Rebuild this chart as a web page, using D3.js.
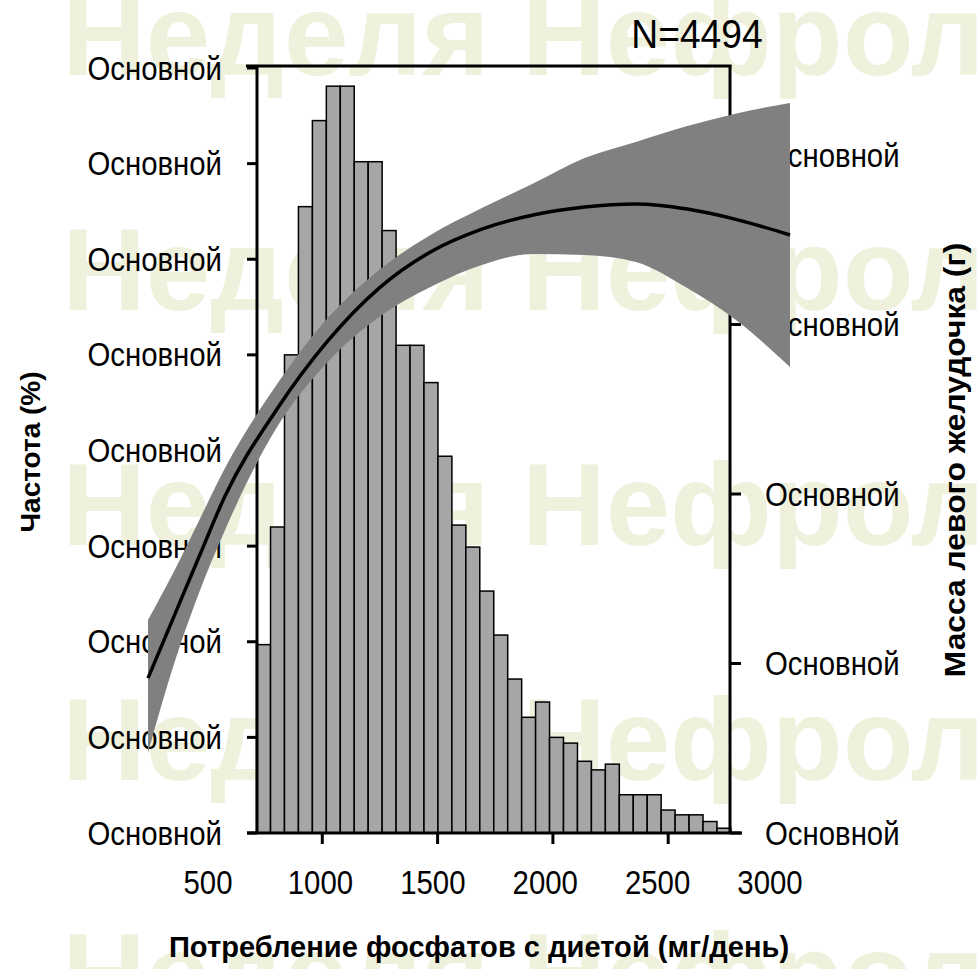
<!DOCTYPE html>
<html><head><meta charset="utf-8">
<script src="https://cdn.jsdelivr.net/npm/d3@7"></script>
<style>body{margin:0;background:#fff} svg{display:block}</style>
</head><body>
<svg id="c" width="979" height="969"></svg>
<script>
// ---- data ----
const binStart = 715, binWidth = 60.5;
const freq = [1.97,3.20,5.0,6.55,7.45,7.81,7.81,7.02,7.02,6.30,5.10,5.10,4.71,3.94,3.22,2.99,2.53,2.07,1.61,1.21,1.37,1.00,0.94,0.75,0.66,0.72,0.40,0.40,0.40,0.24,0.19,0.19,0.12,0.05];
const curveX  = [500,600,700,800,1000,1200,1400,1600,1800,2000,2200,2400,2600,2800,3000];
const lvMass  = [149.14,152.74,156.34,159.88,164.96,169.03,172.15,174.28,175.63,176.46,176.93,177.11,176.81,176.16,175.28];
const lvUpper = [152.57,155.40,158.47,161.53,166.43,170.38,173.22,175.28,176.87,178.32,179.82,180.77,181.71,182.48,183.07];
const lvLower = [144.72,149.91,154.22,157.88,163.89,167.79,170.44,172.21,173.51,174.16,174.10,173.69,172.15,170.15,167.49];
const xTickValues = [500,1000,1500,2000,2500,3000];
const leftTickValues = [0,1,2,3,4,5,6,7,8];
const rightTickValues = [140,150,160,170,180];
const tickLabel = "Основной";
const watermark = "Неделя Нефрол";
const watermarkRows = [75,310,545,780,1015];

// ---- scales ----
const xHist  = d3.scaleLinear([500,3000],[207,783.5]);
const xLabel = d3.scaleLinear([500,3000],[208,770]);
const yFreq  = d3.scaleLinear([0,8],[833,68]);
const xCurve = d3.scaleLinear([500,3000],[148,790]);
const yLV    = d3.scaleLinear([140,180],[833,155]);

const svg = d3.select("#c");
const FONT = "'Liberation Sans', Arial, sans-serif";

function label(g, x, y, txt, opts={}) {
  const sx = opts.sx ?? 0.89, rot = opts.rot ?? 0;
  return g.append("text")
    .attr("transform", `translate(${x},${y}) rotate(${rot}) scale(${sx},1)`)
    .attr("text-anchor", opts.anchor ?? "middle")
    .attr("dy", "0.35em")
    .attr("font-family", FONT)
    .attr("font-size", opts.size ?? 33)
    .attr("font-weight", opts.weight ?? "normal")
    .attr("fill", "#000")
    .text(txt);
}

// watermark
const wm = svg.append("g");
watermarkRows.forEach(b => {
  wm.append("text").attr("x", 62).attr("y", b)
    .attr("font-family", FONT).attr("font-weight", "bold").attr("font-size", 116)
    .attr("fill", "#eff1dd").text(watermark);
});

// histogram bars
const bins = freq.map((v,i) => ({x0: binStart + i*binWidth, x1: binStart + (i+1)*binWidth, v}));
svg.append("g").selectAll("rect").data(bins).join("rect")
  .attr("x", d => xHist(d.x0)).attr("width", d => xHist(d.x1) - xHist(d.x0))
  .attr("y", d => yFreq(d.v)).attr("height", d => yFreq(0) - yFreq(d.v))
  .attr("fill", "#a6a6a6").attr("stroke", "#000").attr("stroke-width", 1.5);

// frame lines
const fr = svg.append("g").attr("stroke", "#000").attr("stroke-width", 3).attr("fill","none");
fr.append("line").attr("x1", 257).attr("x2", 257).attr("y1", 65).attr("y2", yFreq(0));
fr.append("line").attr("x1", 246).attr("x2", 731.5).attr("y1", 66).attr("y2", 66);
fr.append("line").attr("x1", 730).attr("x2", 730).attr("y1", 65).attr("y2", yFreq(0));
fr.append("line").attr("x1", 247).attr("x2", 742).attr("y1", yFreq(0)).attr("y2", yFreq(0));

// left ticks
fr.selectAll(".lt").data(leftTickValues).join("line")
  .attr("x1", 247).attr("x2", 257).attr("y1", d => yFreq(d)).attr("y2", d => yFreq(d));
// right ticks
fr.selectAll(".rt").data(rightTickValues).join("line")
  .attr("x1", 730).attr("x2", 741).attr("y1", d => yLV(d)).attr("y2", d => yLV(d));
// bottom ticks (only inside axis extent)
fr.selectAll(".bt").data(xTickValues.filter(v => xHist(v) > 250 && xHist(v) < 740)).join("line")
  .attr("x1", d => xHist(d)).attr("x2", d => xHist(d)).attr("y1", yFreq(0)).attr("y2", yFreq(0) + 11);

// tick labels
const tl = svg.append("g");
leftTickValues.forEach(v => label(tl, 222, yFreq(v), tickLabel, {anchor: "end"}));
rightTickValues.forEach(v => label(tl, 765, yLV(v), tickLabel, {anchor: "start"}));
xTickValues.forEach(v => label(tl, xLabel(v), 882, String(v)));

// axis titles
label(svg, 30, 452, "Частота (%)", {rot: -90, weight: "bold", size: 28, sx: 1});
label(svg, 954, 460, "Масса левого желудочка (г)", {rot: -90, weight: "bold", size: 30, sx: 1.06});
label(svg, 479, 946, "Потребление фосфатов с диетой (мг/день)", {weight: "bold", size: 30, sx: 0.97});
label(svg, 697, 34, "N=4494", {size: 40, sx: 0.93});

// confidence band and curve
const pts = curveX.map((x,i) => ({x, m: lvMass[i], hi: lvUpper[i], lo: lvLower[i]}));
svg.append("path").datum(pts)
  .attr("d", d3.area().x(d => xCurve(d.x)).y0(d => yLV(d.lo)).y1(d => yLV(d.hi)).curve(d3.curveMonotoneX))
  .attr("fill", "#808080");
svg.append("path").datum(pts)
  .attr("d", d3.line().x(d => xCurve(d.x)).y(d => yLV(d.m)).curve(d3.curveMonotoneX))
  .attr("fill", "none").attr("stroke", "#000").attr("stroke-width", 3.5);
</script>
</body></html>
